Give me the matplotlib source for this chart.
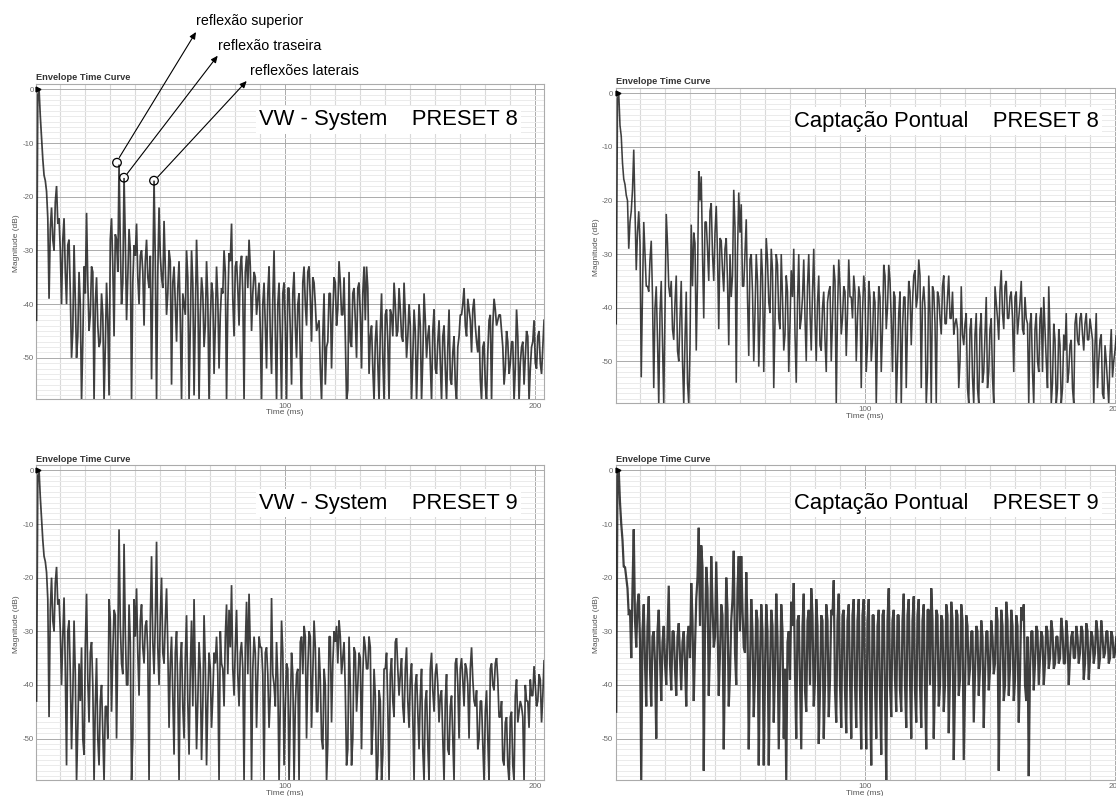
import numpy as np
import matplotlib
matplotlib.use('Agg')
import matplotlib.pyplot as plt
from matplotlib.patches import Circle

plt.rcParams['font.family'] = ['Liberation Sans', 'DejaVu Sans']

# spikes of each curve in dB, one value per ms from 0.5 ms, one row per 10 ms
vw_preset8 = [
    -43, 0, -9, -16, -19, -39, -22, -30, -18, -24,
    -40, -24, -40, -28, -50, -29, -50, -34, -58, -33,
    -23, -45, -33, -58, -35, -48, -38, -58, -36, -57,
    -24, -46, -28, -14, -40, -16.5, -43, -26, -58, -29,
    -25, -40, -30, -44, -28, -37, -54, -17, -58, -22,
    -35, -24.5, -42, -30, -55, -33, -47, -32, -58, -40,
    -30, -58, -30, -57, -28, -58, -35, -48, -32, -58,
    -36, -53, -33, -52, -37, -30, -58, -30.5, -25, -46,
    -32, -44, -31, -58, -31, -28, -45, -34, -42, -36,
    -58, -36, -52, -33, -53, -30, -58, -36, -58, -36,
    -58, -37, -55, -34, -50, -38, -58, -33, -44, -33,
    -47, -36, -45, -43, -58, -38, -48, -38, -52, -35,
    -44, -32, -42, -35, -58, -34, -48, -37, -50, -36,
    -52, -33, -33, -53, -44, -58, -43, -58, -38, -58,
    -41, -58, -42, -36, -46, -37, -46, -36, -50, -40,
    -58, -41, -58, -40, -58, -38, -50, -44, -58, -41,
    -53, -43, -58, -44, -58, -41, -55, -46, -58, -46,
    -42, -37, -46, -41, -49, -39, -47, -44, -58, -47,
    -58, -43, -58, -39, -44, -42, -45, -55, -45, -53,
    -47, -58, -41, -58, -48, -55, -45, -58, -48, -43,
    -52, -45, -53, -43,
]
cp_preset8 = [
    -43, 0, -8, -16, -19, -29, -22, -10.5, -33, -22,
    -53, -24, -36, -37, -27.5, -55, -36, -58, -35, -58,
    -22.5, -36, -35, -46, -34, -50, -35, -58, -37, -58,
    -24.5, -26, -48, -14.5, -15.5, -42, -24, -35, -20.5, -35,
    -21, -44, -27.5, -37, -27, -47, -38, -18, -54, -18.5,
    -20.7, -36, -23.5, -49, -30, -50, -30, -51, -29, -52,
    -27, -39, -29, -55, -30, -42, -30, -48, -34, -52,
    -33, -29, -54, -30, -42, -31, -50, -30, -48, -29,
    -50, -34, -48, -37, -52, -37, -50, -32, -58, -31,
    -45, -36, -49, -31, -38, -34, -50, -36, -55, -34,
    -52, -35, -50, -37, -58, -36, -52, -32, -44, -32,
    -42, -37, -58, -41, -58, -38, -55, -35, -47, -34,
    -40, -31, -55, -36, -58, -34, -58, -37, -58, -38,
    -45, -34, -43, -34, -42, -45, -42, -55, -36, -47,
    -41, -58, -42, -58, -41, -58, -41, -52, -38, -52,
    -42, -58, -39, -46, -33, -44, -35, -42, -37, -52,
    -37, -42, -35, -45, -42, -58, -41, -58, -41, -52,
    -40, -38, -50, -36, -58, -43, -58, -44, -58, -45,
    -41, -52, -46, -58, -41, -47, -41, -48, -41, -46,
    -44, -58, -41, -50, -45, -57, -50, -58, -44, -50,
    -45, -54, -46,
]
vw_preset9 = [
    -43, 0, -9, -16, -19, -46, -20, -30, -18, -24,
    -40, -23.7, -55, -28, -52, -28, -58, -36, -33, -53,
    -23, -47, -32, -58, -35, -55, -40, -58, -44, -24,
    -45, -26, -50, -11, -36, -13.7, -40, -25, -58, -24,
    -22, -42, -25, -36, -28, -58, -16, -38, -13.3, -40,
    -20, -36, -22, -48, -31, -53, -30, -58, -32, -50,
    -27, -53, -28, -24, -52, -32, -54, -27, -55, -34,
    -48, -34, -31, -58, -36, -44, -25, -26, -21.4, -42,
    -26, -44, -32, -58, -24.5, -23, -58, -31, -48, -31,
    -33, -58, -33, -48, -23.8, -40, -32, -58, -28, -55,
    -36, -58, -34, -58, -38, -58, -31, -29, -50, -30,
    -48, -28, -45, -33, -50, -37, -58, -31, -47, -30,
    -29, -28, -38, -32, -55, -31, -55, -33, -45, -34,
    -52, -31, -37, -31, -53, -37, -58, -41, -58, -37,
    -34, -58, -35, -46, -31.3, -42, -35, -47, -33, -48,
    -36, -58, -38, -52, -37, -58, -41, -58, -34, -45,
    -36, -47, -41, -58, -38, -53, -42, -58, -35, -50,
    -35, -44, -37, -50, -33, -43, -41, -50, -43, -58,
    -41, -58, -36, -41, -35, -46, -43, -55, -46, -58,
    -45, -58, -39, -45, -44, -58, -43, -48, -42, -36.5,
    -44, -38, -47, -35.5,
]
cp_preset9 = [
    -45, 0, -10, -18, -20, -27, -35, -11, -33, -23,
    -58, -25, -44, -23.5, -44, -30, -50, -26, -43, -29,
    -40, -21.5, -41, -30, -42, -28.5, -41, -30, -44, -29,
    -21, -43, -24, -10.7, -14, -56, -18, -42, -16, -33,
    -17, -42, -25, -52, -20, -44, -28, -15, -40, -16,
    -16, -33, -19, -52, -24, -46, -26, -55, -25, -55,
    -25, -55, -26, -47, -23, -52, -25, -50, -58, -30,
    -24.5, -21, -50, -27, -52, -23, -45, -26, -22, -44,
    -24, -51, -27, -50, -25, -46, -26, -20.5, -47, -23,
    -48, -26, -49, -25, -50, -24, -48, -24, -52, -24,
    -52, -24, -55, -27, -50, -26, -53, -26, -58, -22,
    -46, -26, -45, -27, -45, -23, -48, -24, -50, -23.5,
    -47, -24, -48, -25, -52, -26, -22, -50, -26, -44,
    -27, -45, -25, -49, -24.5, -54, -26, -42, -25, -54,
    -27, -40, -30, -47, -29, -42, -28, -48, -30, -41,
    -28, -38, -25.5, -56, -26, -43, -24.5, -42, -26, -43,
    -27, -47, -25.5, -25, -43, -57, -30, -41, -29, -40,
    -30, -40, -29, -37, -28, -37, -31, -36, -27.5, -36,
    -28, -40, -31, -35, -29, -36, -29, -39, -28.5, -39,
    -30, -36, -28, -37, -28, -35, -30, -36, -30, -35,
    -31, -35, -30, -36,
]

# the dark core of each curve, read between the spikes, one value per ms from 1 ms
vw_preset8_core = [
    -1, -5, -13, -17, -24, -26, -28, -21, -25, -30,
    -28, -34, -29, -38, -45, -39, -46, -40, -47, -38,
    -36, -42, -34, -40, -44, -47, -42, -48, -43, -28,
    -33, -27, -34, -29, -36, -28, -35, -30, -36, -31,
    -35, -31, -34, -32, -35, -31, -36, -32, -34, -31,
    -37, -33, -38, -32, -36, -40, -37, -43, -38, -42,
    -35, -44, -36, -43, -37, -42, -38, -44, -39, -43,
    -38, -44, -39, -42, -38, -34, -40, -32, -39, -33,
    -37, -33, -38, -34, -37, -33, -38, -35, -39, -45,
    -40, -44, -38, -46, -39, -45, -40, -46, -38, -44,
    -37, -45, -38, -44, -40, -50, -36, -40, -34, -39,
    -35, -40, -44, -52, -46, -55, -47, -38, -42, -36,
    -41, -36, -42, -46, -56, -47, -38, -43, -37, -42,
    -38, -43, -37, -46, -52, -47, -51, -45, -50, -42,
    -47, -41, -46, -40, -45, -41, -47, -42, -46, -44,
    -50, -45, -49, -44, -50, -43, -46, -51, -45, -52,
    -47, -51, -46, -52, -48, -54, -49, -55, -48, -42,
    -40, -44, -39, -43, -41, -44, -49, -54, -48, -55,
    -49, -42, -44, -41, -43, -42, -48, -52, -47, -51,
    -47, -52, -46, -51, -47, -50, -46, -52, -47, -51,
    -46, -51, -48,
]
cp_preset8_core = [
    -1, -6, -13, -17, -20, -24, -18, -22, -26, -28,
    -37, -30, -36, -31, -38, -40, -46, -41, -47, -40,
    -28, -38, -44, -39, -48, -42, -50, -46, -54, -47,
    -36, -28, -35, -20, -30, -24, -29, -22, -30, -26,
    -30, -27, -33, -29, -35, -30, -34, -25, -30, -26,
    -36, -30, -38, -31, -37, -41, -35, -42, -34, -40,
    -31, -41, -33, -42, -32, -44, -38, -45, -37, -43,
    -38, -45, -39, -44, -38, -42, -36, -41, -37, -42,
    -39, -47, -40, -46, -39, -36, -42, -35, -41, -36,
    -42, -37, -41, -38, -42, -37, -42, -38, -41, -37,
    -47, -38, -46, -39, -45, -38, -44, -34, -40, -35,
    -52, -38, -50, -37, -44, -38, -43, -37, -39, -33,
    -38, -34, -39, -40, -52, -41, -36, -43, -37, -42,
    -36, -43, -38, -42, -37, -43, -44, -50, -45, -43,
    -55, -44, -53, -45, -55, -44, -54, -45, -55, -44,
    -53, -36, -42, -37, -41, -36, -42, -38, -42, -38,
    -45, -39, -44, -38, -43, -43, -52, -44, -50, -42,
    -52, -44, -55, -45, -54, -46, -55, -47, -55, -48,
    -54, -47, -55, -43, -46, -42, -45, -43, -46, -42,
    -46, -47, -55, -46, -56, -47, -54, -49, -53, -48,
    -52, -49, -54,
]
vw_preset9_core = [
    -1, -5, -13, -17, -24, -26, -28, -21, -25, -30,
    -31, -37, -30, -38, -42, -38, -48, -43, -50, -33,
    -39, -34, -40, -44, -50, -43, -49, -44, -50, -28,
    -34, -27, -33, -29, -38, -30, -40, -32, -50, -31,
    -34, -28, -33, -29, -34, -28, -32, -28, -33, -27,
    -34, -28, -33, -36, -42, -34, -41, -36, -44, -35,
    -43, -37, -44, -38, -43, -37, -44, -36, -43, -37,
    -42, -36, -38, -30, -37, -31, -38, -33, -37, -33,
    -38, -34, -37, -33, -38, -33, -37, -34, -38, -33,
    -38, -34, -38, -42, -38, -44, -39, -43, -34, -44,
    -37, -45, -38, -44, -37, -32, -38, -31, -37, -31,
    -38, -33, -45, -39, -52, -40, -51, -31, -36, -32,
    -36, -31, -35, -41, -52, -40, -50, -34, -40, -35,
    -38, -33, -37, -33, -48, -42, -55, -43, -53, -37,
    -44, -38, -43, -32, -37, -38, -44, -37, -43, -39,
    -46, -40, -45, -42, -52, -43, -51, -37, -41, -38,
    -40, -42, -50, -43, -52, -44, -50, -36, -40, -37,
    -39, -36, -40, -37, -39, -44, -52, -43, -51, -45,
    -50, -37, -40, -36, -39, -46, -54, -47, -55, -46,
    -55, -42, -47, -43, -46, -40, -43, -39, -42, -40,
    -43, -39, -42,
]
cp_preset9_core = [
    -1, -6, -13, -18, -22, -26, -22, -28, -25, -32,
    -30, -36, -29, -37, -31, -36, -30, -35, -32, -36,
    -31, -36, -30, -37, -31, -35, -32, -36, -31, -35,
    -28, -33, -20, -29, -18, -30, -22, -33, -25, -31,
    -28, -34, -27, -35, -26, -38, -24, -34, -22, -30,
    -26, -34, -29, -37, -30, -38, -28, -36, -30, -37,
    -30, -38, -29, -37, -31, -38, -30, -37, -32, -39,
    -29, -38, -28, -40, -29, -41, -28, -40, -27, -39,
    -29, -41, -28, -40, -28, -39, -27, -41, -28, -40,
    -27, -41, -28, -39, -27, -40, -28, -41, -27, -40,
    -28, -41, -27, -40, -29, -42, -27, -41, -28, -40,
    -28, -39, -27, -41, -28, -40, -27, -39, -28, -41,
    -27, -40, -28, -41, -26, -40, -28, -39, -27, -40,
    -28, -40, -27, -38, -28, -41, -27, -39, -28, -40,
    -29, -37, -30, -38, -30, -37, -31, -38, -30, -37,
    -31, -36, -28, -38, -29, -40, -28, -37, -29, -39,
    -29, -38, -28, -40, -31, -37, -30, -36, -30, -35,
    -31, -36, -30, -35, -30, -36, -31, -35, -30, -36,
    -31, -35, -30, -35, -31, -34, -30, -36, -30, -35,
    -31, -34, -30, -35, -31, -34, -30, -35, -31, -34,
    -31, -35, -31,
]

panel_spikes = [vw_preset8, cp_preset8, vw_preset9, cp_preset9]
panel_core = [vw_preset8_core, cp_preset8_core, vw_preset9_core, cp_preset9_core]
panel_labels = ['VW - System    PRESET 8', 'Captação Pontual    PRESET 8',
                'VW - System    PRESET 9', 'Captação Pontual    PRESET 9']

db_major = [0, -10, -20, -30, -40, -50]
time_major = [100, 200]

W, H = 1116, 796
PX_MS = 2.5
PX_DB = 5.37

fig = plt.figure(figsize=(W / 100, H / 100), dpi=100)

# left, right, top, 0 dB, bottom in pixels; label x, label y; line width
layout = [
    (36.3, 544, 84, 89.3, 399.3, 388.5, 120, 1.25),
    (616, 1124, 88, 92.7, 403, 946.5, 121, 1.15),
    (36.3, 544, 465, 470, 780, 388.5, 503, 1.25),
    (616, 1124, 465, 470, 780, 946.5, 503, 1.6),
]

for spikes, core, label, (l, r, top, zero, bot, lx, ly, lw) in zip(panel_spikes, panel_core, panel_labels, layout):
    ax = fig.add_axes([l / W, 1 - bot / H, (r - l) / W, (bot - top) / H])
    t = np.concatenate([0.5 + np.arange(len(spikes)), 1 + np.arange(len(core))])
    db = np.concatenate([spikes, core])
    order = np.argsort(t)
    ax.plot(t[order], db[order], color='#161616', lw=lw, alpha=0.82, solid_joinstyle='bevel', zorder=3)
    ax.set_xlim(0.4, 0.4 + (r - l) / PX_MS)
    ax.set_ylim(-(bot - zero) / PX_DB, (zero - top) / PX_DB)

    ax.set_xticks(time_major)
    ax.set_xticks([v for v in range(10, 210, 10) if v not in time_major], minor=True)
    ax.set_yticks(db_major)
    ax.set_yticks([v for v in range(1, -58, -1) if v not in db_major], minor=True)
    ax.set_yticklabels([str(v) for v in db_major])
    ax.grid(which='major', color='#ababab', lw=0.7, zorder=1)
    ax.grid(which='minor', axis='y', color='#ebebeb', lw=0.7, zorder=1)
    ax.grid(which='minor', axis='x', color='#d9d9d9', lw=0.8, zorder=1)
    ax.set_axisbelow(True)
    ax.tick_params(which='both', length=0)
    ax.tick_params(axis='y', labelsize=5.6, labelcolor='#666666', pad=2)
    ax.tick_params(axis='x', labelsize=5.8, labelcolor='#666666', pad=2.5)
    for s in ax.spines.values():
        s.set_color('#ababab')
        s.set_linewidth(0.8)

    ax.plot([1.0], [0], marker='>', ms=3.5, color='black', clip_on=False, zorder=5)

    fig.text(l / W, 1 - (top - 6) / H, 'Envelope Time Curve', fontsize=6.7,
             fontweight='bold', color='#333333', va='center', ha='left')
    fig.text((l - 19.5) / W, 1 - (zero + (bot - zero) / 2 - 1) / H, 'Magnitude (dB)', fontsize=6,
             color='#555555', rotation=90, va='center', ha='center')
    fig.text((l + 248.7) / W, 1 - (bot + 13.5) / H, 'Time (ms)', fontsize=6,
             color='#555555', va='center', ha='center')
    fig.text(lx / W, 1 - ly / H, label, fontsize=15.8, color='black', va='center', ha='center',
             zorder=6, bbox=dict(facecolor='white', edgecolor='none', pad=2.5))

# overlay in pixels for the reflection callouts of the first panel
over = fig.add_axes([0, 0, 1, 1], zorder=10)
over.set_xlim(0, W)
over.set_ylim(H, 0)
over.axis('off')
over.patch.set_alpha(0)

circles = [(117, 162.7), (124, 177.7), (154, 180.7)]
arrow_from = [(119.3, 157.5), (127.3, 173.5), (157.7, 177)]
arrow_to = [(196, 32), (217.7, 55.7), (246.7, 81)]
callouts = ['reflexão superior', 'reflexão traseira', 'reflexões laterais']
callout_pos = [(196, 21), (218, 46), (249.5, 71)]

for c, a, b, txt, p in zip(circles, arrow_from, arrow_to, callouts, callout_pos):
    over.add_patch(Circle(c, 4.3, fill=False, edgecolor='black', lw=0.9))
    over.annotate('', xy=b, xytext=a,
                  arrowprops=dict(arrowstyle='-|>,head_width=0.18,head_length=0.4', color='black',
                                  lw=0.8, shrinkA=0, shrinkB=0))
    over.text(p[0], p[1], txt, fontsize=10.3, color='black', va='center', ha='left')

fig.savefig('out.png', dpi=100)
